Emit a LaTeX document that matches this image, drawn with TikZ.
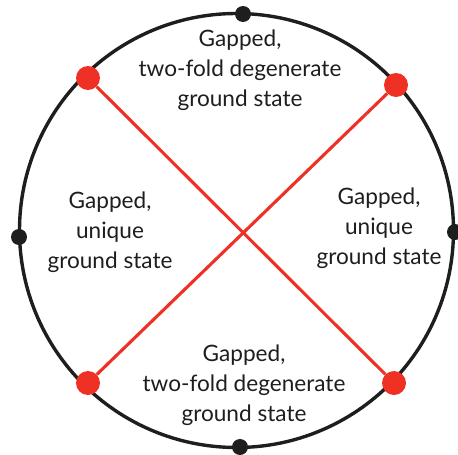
\documentclass[tikz,border=0pt]{standalone}
\usepackage{fontspec}
\setmainfont{Lato}
\usetikzlibrary{positioning}
\definecolor{phasered}{RGB}{238,49,36}
\definecolor{inkblack}{RGB}{30,30,30}

\begin{document}
\begin{tikzpicture}[
  x=1pt, y=-1pt,
  font=\fontsize{22.6}{30}\selectfont,
  phaselabel/.style={align=center, inner sep=0pt, text=inkblack},
  reddot/.style={circle, fill=phasered, inner sep=0pt, minimum size=24pt},
  blackdot/.style={circle, fill=inkblack, inner sep=0pt, minimum size=16pt},
  boundary/.style={draw=inkblack, line width=3.4pt},
  transition/.style={draw=phasered, line width=3.1pt}
]
\useasboundingbox (0,0) rectangle (458,455);
\draw[boundary] (236.5,230.5) circle (217pt);

% points on the boundary
\node[blackdot] (ptop) at (243,14) {};
\node[blackdot] (pleft) at (19,237) {};
\node[blackdot] (pright) at (455,232) {};
\node[blackdot] (pbottom) at (240,447) {};

% transition lines
\node[reddot] (rtl) at (88,78) {};
\node[reddot] (rtr) at (396,85) {};
\node[reddot] (rbl) at (88,383) {};
\node[reddot] (rbr) at (394,383) {};
\draw[transition] (rtl) -- (rbr);
\draw[transition] (rtr) -- (rbl);

% phases
\node[phaselabel] (phtop) at (240,70) {Gapped,\\two-fold degenerate\\ground state};
\node[phaselabel] (phleft) at (110,232) {Gapped,\\unique\\ground state};
\node[phaselabel] (phright) at (379,228) {Gapped,\\unique\\ground state};
\node[phaselabel] (phbottom) at (244,385) {Gapped,\\two-fold degenerate\\ground state};
\end{tikzpicture}
\end{document}
